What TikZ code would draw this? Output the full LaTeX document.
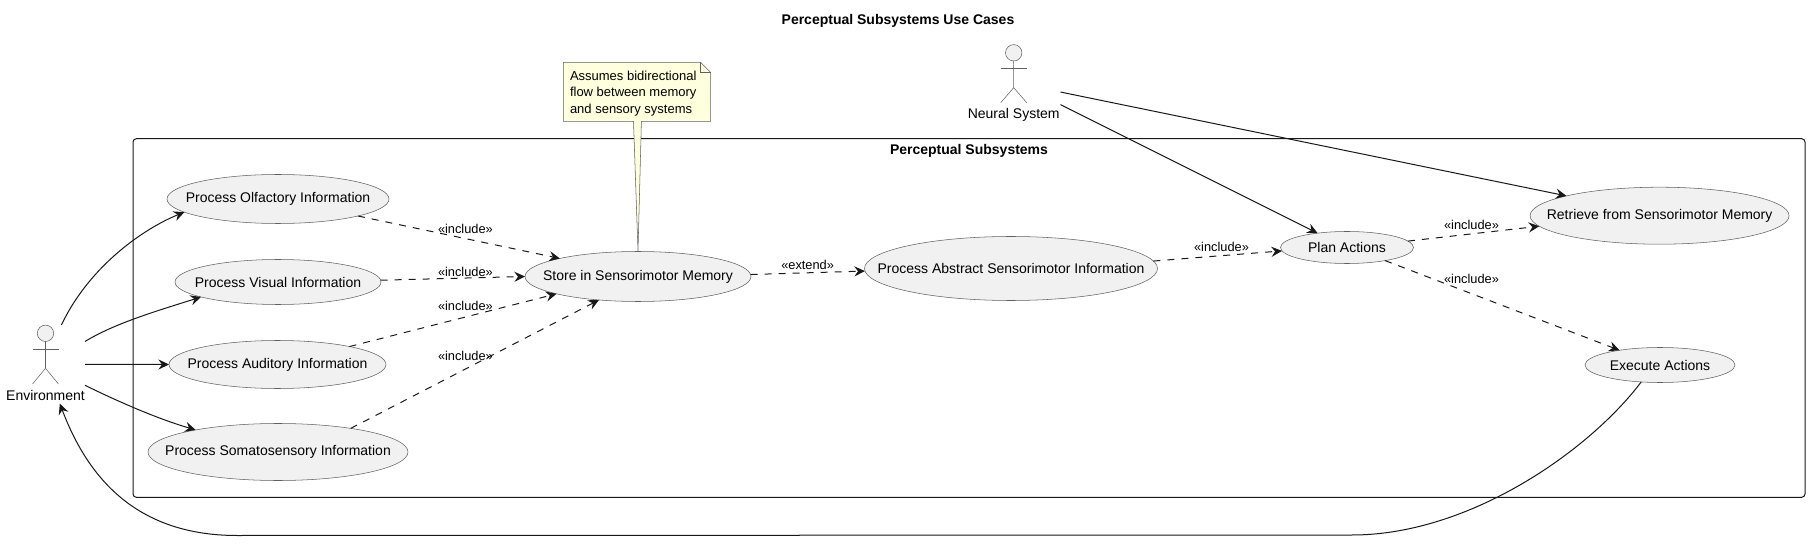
\documentclass[tikz,border=0pt]{standalone}
\usepackage{fontspec}
\setsansfont{Liberation Sans}
\usetikzlibrary{arrows.meta, positioning, shapes.geometric}
\definecolor{umlline}{HTML}{181818}
\definecolor{umlthin}{HTML}{606060}
\definecolor{umlfill}{HTML}{F1F1F1}
\definecolor{notefill}{HTML}{FEFFDD}

\begin{document}
\begin{tikzpicture}[
    x=0.75pt, y=-0.75pt,
    every node/.style={font=\sffamily\fontsize{10.5}{12.6}\selectfont, text=black, inner sep=0pt, outer sep=0pt},
    >={Stealth[length=8pt, width=7.6pt, inset=2.8pt]},
    usecase/.style 2 args={ellipse, draw=umlthin, fill=umlfill, line width=0.4pt, inner sep=-32pt, minimum width=#1*0.75pt, minimum height=#2*0.75pt},
    actorbox/.style 2 args={rectangle, minimum width=#1*0.75pt, minimum height=#2*0.75pt},
    actorline/.style={draw=umlthin, line width=0.4pt},
    assoc/.style={->, draw=umlline, line width=0.75pt},
    dep/.style={->, draw=umlline, line width=0.75pt, dash pattern=on 5.25pt off 5.25pt},
    deplabel/.style={font=\sffamily\fontsize{9.6}{11}\selectfont},
    heading/.style={font=\sffamily\bfseries\fontsize{10.5}{12.6}\selectfont},
]
\useasboundingbox (0,0) rectangle (1810,545);

% --- Title ---
\node[heading] (title) at (898, 21) {Perceptual Subsystems Use Cases};

% --- System frame ---
\draw[umlline, line width=0.75pt, rounded corners=2.5pt] (133, 138.7) rectangle (1805, 497.3);
\node[heading] (frametitle) at (969, 151.3) {Perceptual Subsystems};

% --- Use cases ---
\node[usecase={222}{49}] (olfactory) at (278, 199) {Process Olfactory Information};
\node[usecase={206}{45}] (visual) at (278, 282) {Process Visual Information};
\node[usecase={217}{48}] (auditory) at (277.5, 364.5) {Process Auditory Information};
\node[usecase={260}{57}] (somato) at (278, 452) {Process Somatosensory Information};
\node[usecase={226}{50}] (store) at (638, 276.5) {Store in Sensorimotor Memory};
\node[usecase={293}{64}] (abstract) at (1011, 268.5) {Process Abstract Sensorimotor Information};
\node[usecase={133}{32}] (plan) at (1347, 247.5) {Plan Actions};
\node[usecase={259}{57}] (retrieve) at (1659.6, 215.7) {Retrieve from Sensorimotor Memory};
\node[usecase={150}{35}] (execute) at (1660, 365) {Execute Actions};

% --- Actors ---
\node[actorbox={79}{78.6}] (env) at (45.5, 364.3) {};
\node (envname) at (45.5, 395.7) {Environment};
\draw[actorline, fill=umlfill] (45.5, 333.3) circle [radius=8.2];
\draw[actorline] (45.5, 341.5) -- (45.5, 368.3) -- (32.5, 384);
\draw[actorline] (45.5, 368.3) -- (58.5, 384);
\draw[actorline] (32.5, 349) -- (58.5, 349);

\node[actorbox={93}{78}] (neural) at (1014, 83) {};
\node (neuralname) at (1013.7, 115) {Neural System};
\draw[actorline, fill=umlfill] (1013.7, 52.8) circle [radius=8.2];
\draw[actorline] (1013.7, 61) -- (1013.7, 87.7) -- (1000.7, 102.7);
\draw[actorline] (1013.7, 87.7) -- (1026.7, 102.7);
\draw[actorline] (1000.7, 68.3) -- (1026.7, 68.3);

% --- Note ---
\draw[actorline, fill=notefill] (563.4, 62.3) -- (700.6, 62.3) -- (710.6, 72.3) -- (710.6, 121.3) -- (641.4, 121.3)
    -- (store.90) -- (633.5, 121.3) -- (563.4, 121.3) -- cycle;
\draw[actorline] (700.6, 62.3) -- (700.6, 72.3) -- (710.6, 72.3);
\node[anchor=west, align=left, font=\sffamily\fontsize{9.75}{12.4}\selectfont] (note) at (570, 93.2)
    {Assumes bidirectional\\flow between memory\\and sensory systems};

% --- Actor arrows ---
\draw[assoc] (env.68.1) .. controls (90, 265) and (145, 228) .. (olfactory.188.2);
\draw[assoc] (env.30.9) .. controls (115, 323) and (160, 310) .. (visual.191.8);
\draw[assoc] (env.0) -- (auditory.180);
\draw[assoc] (env.-28.8) .. controls (115, 400) and (155, 418) .. (somato.165);
\draw[assoc] (neural.-25.3) -- (plan.154.3);
\draw[assoc] (neural.-11.3) -- (retrieve.168.3);
\draw[assoc] (execute.222.7) .. controls (1590, 450) and (1470, 535) .. (1352, 535)
    -- (237, 535.5) .. controls (130, 535.5) and (85, 470) .. (env.-70.8);

% --- Include and extend arrows ---
\draw[dep] (olfactory.-12) -- (store.167.8);
\draw[dep] (visual.1) -- (store.180.8);
\draw[dep] (auditory.14.3) -- (store.192.8);
\draw[dep] (somato.18.6) -- (store.211);
\draw[dep] (store.1.6) -- (abstract.181);
\draw[dep] (abstract.3.7) -- (plan.183.1);
\draw[dep] (plan.6.1) -- (retrieve.185.3);
\draw[dep] (plan.-19.3) -- (execute.160.6);

% --- Arrow labels ---
\node[deplabel] (lolfactory) at (465.4, 229) {«include»};
\node[deplabel] (lvisual) at (465.4, 271.5) {«include»};
\node[deplabel] (lauditory) at (465.4, 305.5) {«include»};
\node[deplabel] (lsomato) at (465.4, 356) {«include»};
\node[deplabel] (lstore) at (807.6, 265) {«extend»};
\node[deplabel] (labstract) at (1221.5, 246.7) {«include»};
\node[deplabel] (lretrieve) at (1471.5, 225) {«include»};
\node[deplabel] (lexecute) at (1471.5, 278.7) {«include»};

\end{tikzpicture}
\end{document}
